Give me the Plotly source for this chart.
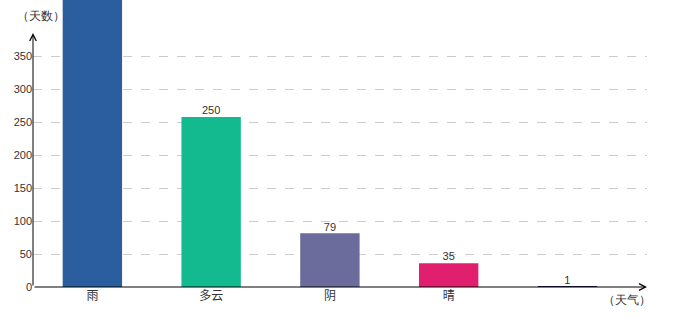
import plotly.graph_objects as go

categories = ["雨", "多云", "阴", "晴", ""]
days = [450, 250, 79, 35, 1]
labels = ["", "250", "79", "35", "1"]
colors = ["#2B5E9E", "#13B98F", "#6B6C9C", "#E0206F", "#1B1B50"]
y_ticks = [0, 50, 100, 150, 200, 250, 300, 350]
y_title = "（天数）"
x_title = "（天气）"

x_pos = list(range(len(categories)))
y_top = 434.85
bar_scale = 1.03

fig = go.Figure()
fig.add_trace(go.Bar(
    x=x_pos, y=days, width=0.5, marker=dict(color=colors, line=dict(width=0)),
    yaxis="y2", hoverinfo="skip", showlegend=False,
))
fig.add_trace(go.Scatter(
    x=x_pos, y=days, mode="text", text=labels, textposition="top center",
    textfont=dict(family="Liberation Sans, Arial", size=11, color="#333333"),
    yaxis="y2", cliponaxis=True, hoverinfo="skip", showlegend=False,
))

def px_to_paper(px, py):
    return (px - 33) / 614, (287 - py) / 287

tx, ty = px_to_paper(15, 15)
gx, gy = px_to_paper(601, 299)
fig.update_layout(
    width=680, height=320,
    margin=dict(l=33, r=33, t=0, b=33),
    paper_bgcolor="white", plot_bgcolor="white",
    xaxis=dict(
        range=[-0.5, 4.67], tickvals=x_pos, ticktext=categories,
        showgrid=False, zeroline=False, showline=False, ticks="",
        tickfont=dict(family="Noto Sans CJK SC", size=12, color="#333333"),
        fixedrange=True,
    ),
    yaxis=dict(
        range=[0, y_top], tickvals=y_ticks, showgrid=True,
        gridcolor="#CCCCCC", griddash="dash", gridwidth=1,
        zeroline=False, showline=False, ticks="", ticklen=0,
        tickfont=dict(family="Liberation Sans, Arial", size=11, color="#333333"),
        fixedrange=True,
    ),
    yaxis2=dict(
        range=[0, y_top / bar_scale], overlaying="y", visible=False, fixedrange=True,
    ),
    annotations=[
        dict(x=-0.5, y=384.8, ax=-0.5, ay=0, xref="x", yref="y", axref="x", ayref="y",
             text="", showarrow=True, arrowhead=5, arrowsize=1.3, arrowwidth=1,
             arrowcolor="#000000", standoff=0),
        dict(x=4.67, y=0, ax=-0.5, ay=0, xref="x", yref="y", axref="x", ayref="y",
             text="", showarrow=True, arrowhead=5, arrowsize=1.3, arrowwidth=1,
             arrowcolor="#000000", standoff=0),
        dict(x=tx, y=ty, xref="paper", yref="paper",
             text=y_title, showarrow=False, xanchor="left", yanchor="middle",
             font=dict(family="Noto Sans", size=12, color="#333333")),
        dict(x=gx, y=gy, xref="paper", yref="paper",
             text=x_title, showarrow=False, xanchor="left", yanchor="middle",
             font=dict(family="Noto Sans", size=12, color="#333333")),
    ],
)

fig.write_html("out.html")
